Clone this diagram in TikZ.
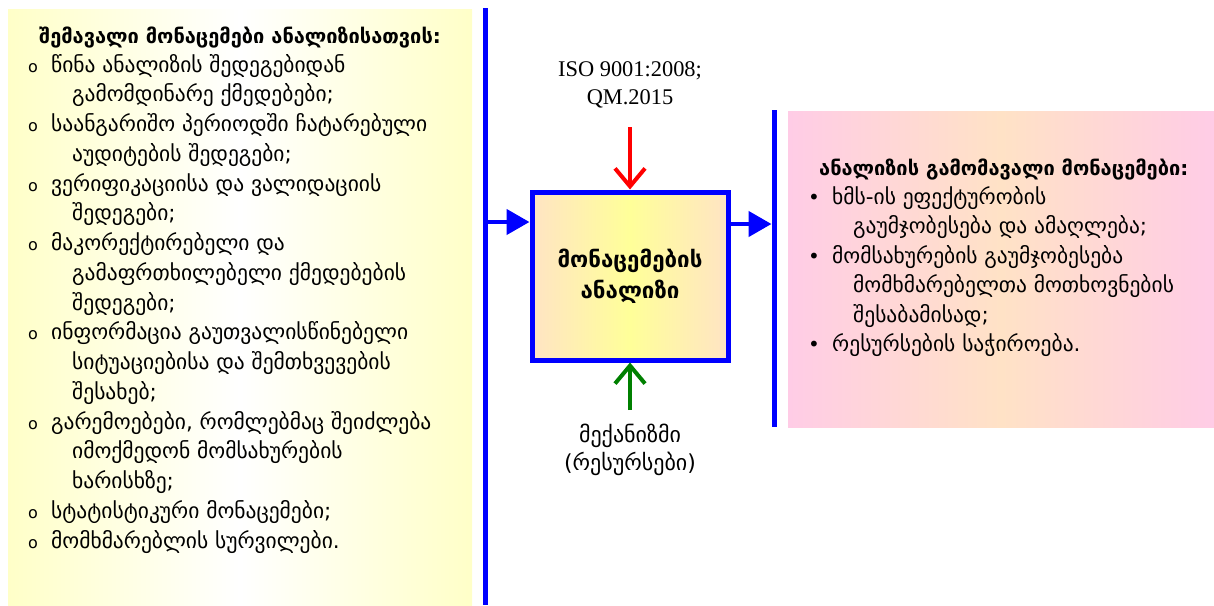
\documentclass[tikz,border=0pt]{standalone}
\usepackage{fontspec}
\setmainfont{DejaVu Sans}
\newfontfamily\isofont{Liberation Serif}
\usetikzlibrary{arrows.meta}
\definecolor{lpS}{RGB}{255,255,200}
\definecolor{lpM}{RGB}{255,255,255}
\definecolor{rpS}{RGB}{255,204,230}
\definecolor{rpM}{RGB}{255,226,198}
\definecolor{bxS}{RGB}{255,228,196}
\definecolor{bxM}{RGB}{255,255,153}
\definecolor{dgreen}{RGB}{0,128,0}
\tikzset{
  panel/.style={rectangle, inner sep=0pt, outer sep=0pt, anchor=north west},
  txt/.style={anchor=base west, inner sep=0pt, font=\fontsize{21.5}{24}\selectfont},
  ttl/.style={txt, font=\fontsize{20}{24}\selectfont\bfseries},
  obul/.style={anchor=base, inner sep=0pt, font=\fontsize{16}{18}\selectfont},
  dbul/.style={anchor=base, inner sep=0pt, font=\fontsize{20}{22}\selectfont},
  ctxt/.style={anchor=base, inner sep=0pt, font=\fontsize{22}{24}\selectfont},
  isotxt/.style={anchor=base, inner sep=0pt, font=\isofont\fontsize{22.4}{24}\selectfont},
  bline/.style={draw=blue, line width=5pt},
  barrow/.style={draw=blue, line width=4.5pt, -{Triangle[length=23pt,width=25pt]}},
  varrow/.style={line width=4pt, -{Straight Barb[length=18pt,width=30pt]}},
}
\begin{document}
\begin{tikzpicture}[x=1pt,y=-1pt]
\useasboundingbox (0,0) rectangle (1214,605);
% panels
\node[panel, minimum width=464pt, minimum height=600pt, left color=lpS, right color=lpS, middle color=lpM] (lp) at (8,9) {};
\node[panel, minimum width=426pt, minimum height=316pt, left color=rpS, right color=rpS, middle color=rpM] (rp) at (788,111) {};
% left text
\node[ttl] (l0) at (39,43) {შემავალი მონაცემები ანალიზისათვის:};
\node[obul] (b1) at (33,72) {o};
\node[txt] (l1) at (51,72) {წინა ანალიზის შედეგებიდან};
\node[txt] (l2) at (72,101.75) {გამომდინარე ქმედებები;};
\node[obul] (b3) at (33,131.5) {o};
\node[txt] (l3) at (51,131.5) {საანგარიშო პერიოდში ჩატარებული};
\node[txt] (l4) at (72,161.25) {აუდიტების შედეგები;};
\node[obul] (b5) at (33,191) {o};
\node[txt] (l5) at (51,191) {ვერიფიკაციისა და ვალიდაციის};
\node[txt] (l6) at (72,220.75) {შედეგები;};
\node[obul] (b7) at (33,250.5) {o};
\node[txt] (l7) at (51,250.5) {მაკორექტირებელი და};
\node[txt] (l8) at (72,280.25) {გამაფრთხილებელი ქმედებების};
\node[txt] (l9) at (72,310) {შედეგები;};
\node[obul] (b10) at (33,339.75) {o};
\node[txt] (l10) at (51,339.75) {ინფორმაცია გაუთვალისწინებელი};
\node[txt] (l11) at (72,369.5) {სიტუაციებისა და შემთხვევების};
\node[txt] (l12) at (72,399.25) {შესახებ;};
\node[obul] (b13) at (33,429) {o};
\node[txt] (l13) at (51,429) {გარემოებები, რომლებმაც შეიძლება};
\node[txt] (l14) at (72,458.75) {იმოქმედონ მომსახურების};
\node[txt] (l15) at (72,488.5) {ხარისხზე;};
\node[obul] (b16) at (33,518.25) {o};
\node[txt] (l16) at (51,518.25) {სტატისტიკური მონაცემები;};
\node[obul] (b17) at (33,548) {o};
\node[txt] (l17) at (51,548) {მომხმარებლის სურვილები.};
% right text
\node[ttl] (r0) at (819,175) {ანალიზის გამომავალი მონაცემები:};
\node[dbul] (rb1) at (814,204) {•};
\node[txt] (r1) at (832,204) {ხმს-ის ეფექტურობის};
\node[txt] (r2) at (853,233.5) {გაუმჯობესება და ამაღლება;};
\node[dbul] (rb3) at (814,263) {•};
\node[txt] (r3) at (832,263) {მომსახურების გაუმჯობესება};
\node[txt] (r4) at (853,292.5) {მომხმარებელთა მოთხოვნების};
\node[txt] (r5) at (853,322) {შესაბამისად;};
\node[dbul] (rb6) at (814,351.5) {•};
\node[txt] (r6) at (832,351.5) {რესურსების საჭიროება.};
% central box
\node[draw=blue, line width=5pt, minimum width=196pt, minimum height=168pt, inner sep=0pt,
      left color=bxS, right color=bxS, middle color=bxM, align=center,
      font=\fontsize{22.3}{31}\selectfont\bfseries] (box) at (630,276) {მონაცემების\\ანალიზი};
% top / bottom labels
\node[isotxt] (iso1) at (630,76) {ISO 9001:2008;};
\node[isotxt] (iso2) at (630,104) {QM.2015};
\node[ctxt] (m1) at (630,442) {მექანიზმი};
\node[ctxt] (m2) at (630,470) {(რესურსები)};
% vertical lines
\coordinate (ltop) at (485,8);
\coordinate (lbot) at (485,605);
\draw[bline] (ltop) -- (lbot);
\coordinate (rtop) at (774,110);
\coordinate (rbot) at (774,427);
\draw[bline] (rtop) -- (rbot);
% arrows
\coordinate (lin) at (485,222);
\draw[barrow] (lin) -- (lin -| box.west);
\coordinate (rout) at (771.5,224);
\draw[barrow] (box.east |- rout) -- (rout);
\coordinate (ctrl) at (630,127);
\draw[varrow, red] (ctrl) -- (box.north);
\coordinate (mech) at (630,410);
\draw[varrow, dgreen] (mech) -- (box.south);
\end{tikzpicture}
\end{document}
